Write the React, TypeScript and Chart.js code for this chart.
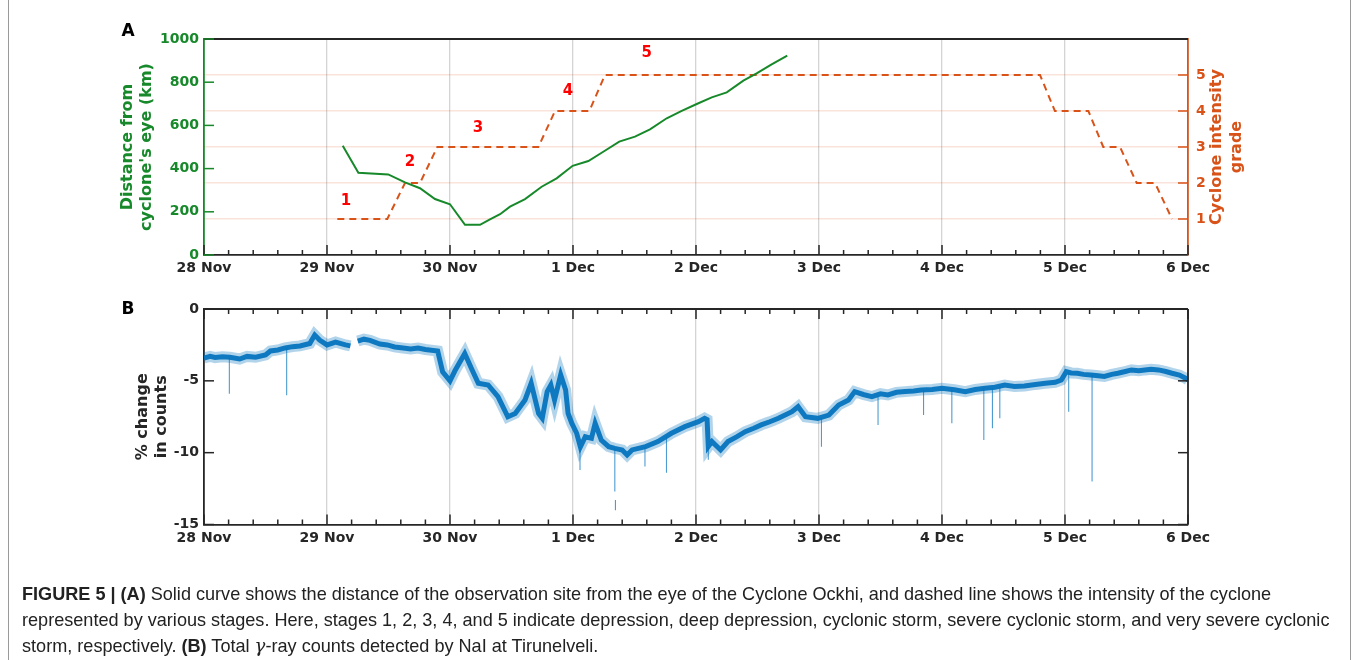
import React, { useEffect, useRef } from 'react';
import { Chart, registerables } from 'chart.js';

Chart.register(...registerables);

// ---------- data ----------
const dayTickValues = [0, 1, 2, 3, 4, 5, 6, 7, 8];
const dayTickLabels = ['28 Nov', '29 Nov', '30 Nov', '1 Dec', '2 Dec', '3 Dec', '4 Dec', '5 Dec', '6 Dec'];

const distTicks = [0, 200, 400, 600, 800, 1000];
const gradeTicks = [1, 2, 3, 4, 5];
const pctTicks = [0, -5, -10, -15];

// distance from cyclone eye (days since 28 Nov 00:00, km)
const distDays = [1.128, 1.255, 1.498, 1.634, 1.756, 1.878, 2.0, 2.122, 2.244, 2.325, 2.407, 2.488, 2.61, 2.745, 2.867, 2.997, 3.125, 3.246, 3.376, 3.504, 3.626, 3.762, 3.884, 4.006, 4.128, 4.25, 4.385, 4.493, 4.615, 4.742];
const distKm = [506, 381, 373, 336, 309, 259, 235, 140, 140, 165, 189, 224, 259, 316, 355, 413, 435, 478, 525, 548, 582, 633, 667, 699, 730, 753, 807, 841, 883, 923];

// cyclone intensity grade (dashed)
const stageDays = [1.084, 1.49, 1.634, 1.756, 1.897, 2.718, 2.854, 3.133, 3.26, 6.797, 6.918, 7.19, 7.311, 7.447, 7.583, 7.732, 7.87];
const stageGrades = [1, 1, 2, 2, 3, 3, 4, 4, 5, 5, 4, 4, 3, 3, 2, 2, 1];

const stageLabelText = ['1', '2', '3', '4', '5'];
const stageLabelDays = [1.154, 1.674, 2.228, 2.96, 3.6];
const stageLabelGrades = [1.5, 2.59, 3.53, 4.54, 5.6];

// % change in gamma-ray counts
const gammaDays = [0.0, 0.05, 0.09, 0.15, 0.21, 0.29, 0.35, 0.42, 0.5, 0.54, 0.6, 0.66, 0.72, 0.78, 0.86, 0.9, 0.94, 1.0, 1.07, 1.15, 1.19, 1.22, 1.25, 1.3, 1.35, 1.43, 1.49, 1.55, 1.62, 1.68, 1.74, 1.8, 1.9, 1.94, 2.0, 2.04, 2.12, 2.18, 2.23, 2.31, 2.39, 2.47, 2.53, 2.61, 2.66, 2.72, 2.75, 2.79, 2.82, 2.85, 2.9, 2.94, 2.96, 2.99, 3.03, 3.06, 3.1, 3.15, 3.18, 3.23, 3.29, 3.34, 3.4, 3.44, 3.48, 3.59, 3.69, 3.8, 3.91, 4.02, 4.07, 4.09, 4.1, 4.13, 4.2, 4.26, 4.33, 4.4, 4.47, 4.53, 4.6, 4.67, 4.78, 4.83, 4.89, 4.99, 5.08, 5.16, 5.24, 5.29, 5.36, 5.43, 5.5, 5.56, 5.63, 5.7, 5.77, 5.83, 5.92, 6.0, 6.1, 6.19, 6.27, 6.35, 6.43, 6.51, 6.59, 6.67, 6.76, 6.84, 6.92, 6.97, 7.01, 7.05, 7.1, 7.15, 7.21, 7.27, 7.32, 7.38, 7.43, 7.49, 7.54, 7.6, 7.65, 7.7, 7.76, 7.82, 7.87, 7.93, 7.98, 8.0];
const gammaPct = [-3.41, -3.3, -3.38, -3.32, -3.36, -3.48, -3.3, -3.36, -3.2, -2.92, -2.85, -2.71, -2.62, -2.57, -2.4, -1.81, -2.16, -2.5, -2.3, -2.5, -2.57, null, -2.23, -2.1, -2.18, -2.44, -2.5, -2.64, -2.72, -2.78, -2.72, -2.82, -2.92, -4.38, -5.0, -4.3, -3.1, -4.24, -5.17, -5.29, -6.1, -7.5, -7.27, -6.33, -5.17, -7.26, -7.6, -5.75, -5.29, -6.33, -4.59, -5.64, -7.27, -7.95, -8.65, -9.6, -8.89, -9.0, -7.95, -9.12, -9.58, -9.7, -9.81, -10.16, -9.81, -9.58, -9.23, -8.65, -8.19, -7.84, -7.61, -7.7, -9.58, -9.23, -9.81, -9.23, -8.9, -8.54, -8.3, -8.07, -7.85, -7.61, -7.15, -6.8, -7.5, -7.61, -7.38, -6.68, -6.33, -5.75, -5.95, -6.1, -5.9, -5.98, -5.8, -5.75, -5.7, -5.64, -5.6, -5.52, -5.62, -5.75, -5.6, -5.52, -5.45, -5.29, -5.4, -5.36, -5.25, -5.17, -5.1, -4.94, -4.36, -4.45, -4.47, -4.55, -4.59, -4.65, -4.7, -4.55, -4.47, -4.35, -4.24, -4.3, -4.24, -4.2, -4.24, -4.35, -4.47, -4.6, -4.82, -4.94];

// short downward spikes
const spikeDays = [0.206, 0.672, 3.057, 3.34, 3.345, 3.585, 3.76, 4.1, 5.02, 5.48, 5.85, 6.08, 6.34, 6.41, 6.47, 7.03, 7.22];
const spikeTop = [-3.4, -2.7, -9.6, -9.7, -13.3, -9.6, -8.9, -9.6, -7.6, -6.1, -5.64, -5.6, -5.5, -5.5, -5.4, -4.4, -4.6];
const spikeBottom = [-5.9, -6.0, -11.2, -12.7, -14.0, -10.97, -11.4, -10.5, -9.58, -8.07, -7.38, -7.95, -9.12, -8.3, -7.6, -7.15, -12.0];

// ---------- styles ----------
const GREEN = '#17892a';
const ORANGE = '#D95319';
const DARK = '#262626';
const TICK_FONT = { family: '"DejaVu Sans", sans-serif', size: 14, weight: 'bold' as const };
const TITLE_FONT = 'bold 16px "DejaVu Sans", sans-serif';

function line(ctx: CanvasRenderingContext2D, x1: number, y1: number, x2: number, y2: number, color: string, w = 1.5) {
  ctx.beginPath();
  ctx.strokeStyle = color;
  ctx.lineWidth = w;
  ctx.moveTo(x1, y1);
  ctx.lineTo(x2, y2);
  ctx.stroke();
}

function vtext(ctx: CanvasRenderingContext2D, text: string, x: number, y: number, color: string, font: string) {
  ctx.save();
  ctx.translate(x, y);
  ctx.rotate(-Math.PI / 2);
  ctx.fillStyle = color;
  ctx.font = font;
  ctx.textAlign = 'center';
  ctx.textBaseline = 'middle';
  ctx.fillText(text, 0, 0);
  ctx.restore();
}

function xTicks(ctx: CanvasRenderingContext2D, chart: any, yBase: number, dir: number) {
  const sx = chart.scales.x;
  for (let i = 0; i <= 40; i++) {
    const px = sx.getPixelForValue(i * 0.2);
    const len = i % 5 === 0 ? 10 : 5;
    line(ctx, px, yBase, px, yBase + dir * len, DARK, 1.5);
  }
}

const panelAPlugin = {
  id: 'panelA',
  afterDraw(chart: any) {
    const { ctx, chartArea } = chart;
    const { left, right, top, bottom } = chartArea;
    ctx.save();
    line(ctx, left, top, right, top, DARK, 1.8);
    xTicks(ctx, chart, bottom, -1);
    distTicks.forEach((v) => {
      const py = chart.scales.y.getPixelForValue(v);
      line(ctx, left, py, left + 10, py, GREEN, 1.5);
    });
    gradeTicks.forEach((v) => {
      const py = chart.scales.y2.getPixelForValue(v);
      line(ctx, right, py, right - 10, py, ORANGE, 1.5);
    });
    // stage labels
    ctx.fillStyle = '#ff0000';
    ctx.font = 'bold 15px "DejaVu Sans", sans-serif';
    ctx.textAlign = 'center';
    ctx.textBaseline = 'middle';
    stageLabelText.forEach((t, i) => {
      ctx.fillText(t, chart.scales.x.getPixelForValue(stageLabelDays[i]), chart.scales.y2.getPixelForValue(stageLabelGrades[i]));
    });
    // axis titles
    const cy = (top + bottom) / 2;
    vtext(ctx, 'Distance from', 128, cy, GREEN, TITLE_FONT);
    vtext(ctx, "cyclone's eye (km)", 147, cy, GREEN, TITLE_FONT);
    vtext(ctx, 'Cyclone intensity', 1217, cy, ORANGE, TITLE_FONT);
    vtext(ctx, 'grade', 1237, cy, ORANGE, TITLE_FONT);
    // panel letter
    ctx.fillStyle = '#000';
    ctx.font = 'bold 17px "DejaVu Sans", sans-serif';
    ctx.textAlign = 'center';
    ctx.textBaseline = 'middle';
    ctx.fillText('A', 128, 32);
    ctx.restore();
  },
};

const panelBPlugin = {
  id: 'panelB',
  afterDraw(chart: any) {
    const { ctx, chartArea } = chart;
    const { left, right, top, bottom } = chartArea;
    ctx.save();
    line(ctx, left, top, right, top, DARK, 1.8);
    line(ctx, right, top, right, bottom, DARK, 1.8);
    xTicks(ctx, chart, bottom, -1);
    xTicks(ctx, chart, top, 1);
    pctTicks.forEach((v) => {
      const py = chart.scales.y.getPixelForValue(v);
      line(ctx, left, py, left + 10, py, DARK, 1.5);
      line(ctx, right, py, right - 10, py, DARK, 1.5);
    });
    const cy = (top + bottom) / 2;
    vtext(ctx, '% change', 143, cy, DARK, TITLE_FONT);
    vtext(ctx, 'in counts', 162, cy, DARK, TITLE_FONT);
    ctx.fillStyle = '#000';
    ctx.font = 'bold 17px "DejaVu Sans", sans-serif';
    ctx.textAlign = 'center';
    ctx.textBaseline = 'middle';
    ctx.fillText('B', 128, top + 1);
    ctx.restore();
  },
};

function xScale() {
  return {
    type: 'linear' as const,
    min: 0,
    max: 8,
    afterBuildTicks: (s: any) => {
      s.ticks = dayTickValues.map((v) => ({ value: v }));
    },
    ticks: {
      callback: (_v: any, i: number) => dayTickLabels[i],
      font: TICK_FONT,
      color: DARK,
      padding: 5,
      maxRotation: 0,
      autoSkip: false,
    },
    grid: { color: '#d4d4d4', lineWidth: 1.3, drawTicks: false },
    border: { display: true, color: DARK, width: 1.8 },
    afterFit: (s: any) => {
      s.height = 35;
    },
  };
}

export default function App() {
  const refA = useRef<HTMLCanvasElement>(null);
  const refB = useRef<HTMLCanvasElement>(null);

  useEffect(() => {
    const chartA = new Chart(refA.current as HTMLCanvasElement, {
      type: 'line',
      data: {
        datasets: [
          {
            label: 'distance',
            data: distDays.map((d, i) => ({ x: d, y: distKm[i] })),
            yAxisID: 'y',
            borderColor: GREEN,
            borderWidth: 2,
            pointRadius: 0,
            tension: 0,
          },
          {
            label: 'grade',
            data: stageDays.map((d, i) => ({ x: d, y: stageGrades[i] })),
            yAxisID: 'y2',
            borderColor: ORANGE,
            borderWidth: 2,
            borderDash: [7, 5],
            pointRadius: 0,
            tension: 0,
          },
        ],
      },
      options: {
        responsive: false,
        animation: false,
        devicePixelRatio: 1,
        layout: { padding: { top: 39, left: 0, right: 0, bottom: 0 } },
        plugins: { legend: { display: false }, tooltip: { enabled: false } },
        scales: {
          x: xScale(),
          y: {
            type: 'linear',
            position: 'left',
            min: 0,
            max: 1000,
            afterBuildTicks: (s: any) => {
              s.ticks = distTicks.map((v) => ({ value: v }));
            },
            ticks: { font: TICK_FONT, color: GREEN, padding: 5, callback: (v: any) => String(v) },
            grid: { display: false, drawTicks: false },
            border: { display: true, color: GREEN, width: 1.8 },
            afterFit: (s: any) => {
              s.width = 204;
            },
          },
          y2: {
            type: 'linear',
            position: 'right',
            min: 0,
            max: 6,
            afterBuildTicks: (s: any) => {
              s.ticks = gradeTicks.map((v) => ({ value: v }));
            },
            ticks: { font: TICK_FONT, color: ORANGE, padding: 8, callback: (v: any) => String(v) },
            grid: { color: 'rgba(217,83,25,0.16)', lineWidth: 1.5, drawTicks: false },
            border: { display: true, color: ORANGE, width: 1.8 },
            afterFit: (s: any) => {
              s.width = 169;
            },
          },
        },
      } as any,
      plugins: [panelAPlugin],
    });

    const gammaData = gammaDays.map((d, i) => ({ x: d, y: gammaPct[i] }));
    const spikeData: any[] = [];
    spikeDays.forEach((d, i) => {
      spikeData.push({ x: d, y: spikeTop[i] }, { x: d, y: spikeBottom[i] }, { x: d, y: null });
    });

    const chartB = new Chart(refB.current as HTMLCanvasElement, {
      type: 'line',
      data: {
        datasets: [
          {
            label: 'spikes',
            data: spikeData,
            borderColor: 'rgba(0,114,189,0.7)',
            borderWidth: 1.1,
            pointRadius: 0,
            spanGaps: false,
          },
          {
            label: 'core',
            data: gammaData,
            borderColor: 'rgba(0,114,189,0.92)',
            borderWidth: 5,
            pointRadius: 0,
            tension: 0,
            spanGaps: false,
          },
          {
            label: 'halo',
            data: gammaData,
            borderColor: 'rgba(0,114,189,0.3)',
            borderWidth: 11,
            pointRadius: 0,
            tension: 0,
            spanGaps: false,
          },
        ],
      },
      options: {
        responsive: false,
        animation: false,
        devicePixelRatio: 1,
        layout: { padding: { top: 29, left: 0, right: 169, bottom: 0 } },
        plugins: { legend: { display: false }, tooltip: { enabled: false } },
        scales: {
          x: { ...xScale(), afterFit: (s: any) => { s.height = 35.5; } },
          y: {
            type: 'linear',
            position: 'left',
            min: -15,
            max: 0,
            afterBuildTicks: (s: any) => {
              s.ticks = pctTicks.map((v) => ({ value: v }));
            },
            ticks: { font: TICK_FONT, color: DARK, padding: 5, callback: (v: any) => String(v) },
            grid: { display: false, drawTicks: false },
            border: { display: true, color: DARK, width: 1.8 },
            afterFit: (s: any) => {
              s.width = 204;
            },
          },
        },
      } as any,
      plugins: [panelBPlugin],
    });

    return () => {
      chartA.destroy();
      chartB.destroy();
    };
  }, []);

  return (
    <div style={{ position: 'absolute', left: 0, top: 0, width: 1357, height: 660, background: '#fff', overflow: 'hidden' }}>
      <canvas ref={refA} width={1357} height={290} style={{ position: 'absolute', left: 0, top: 0, width: 1357, height: 290 }} />
      <canvas ref={refB} width={1357} height={280} style={{ position: 'absolute', left: 0, top: 280, width: 1357, height: 280 }} />
      <div style={{ position: 'absolute', left: 8, top: -2, width: 1341, height: 700, borderLeft: '1.5px solid #9a9a9a', borderRight: '1.5px solid #9a9a9a' }} />
      <div
        style={{
          position: 'absolute',
          left: 22,
          top: 581,
          fontFamily: '"Liberation Sans", Arial, sans-serif',
          fontSize: 18.1,
          lineHeight: '26px',
          color: '#222',
          whiteSpace: 'nowrap',
        }}
      >
        <b>FIGURE 5 | (A)</b> Solid curve shows the distance of the observation site from the eye of the Cyclone Ockhi, and dashed line shows the intensity of the cyclone
        <br />
        represented by various stages. Here, stages 1, 2, 3, 4, and 5 indicate depression, deep depression, cyclonic storm, severe cyclonic storm, and very severe cyclonic
        <br />
        storm, respectively. <b>(B)</b> Total <i style={{ fontFamily: '"DejaVu Serif", serif' }}>γ</i>-ray counts detected by NaI at Tirunelveli.
      </div>
    </div>
  );
}
